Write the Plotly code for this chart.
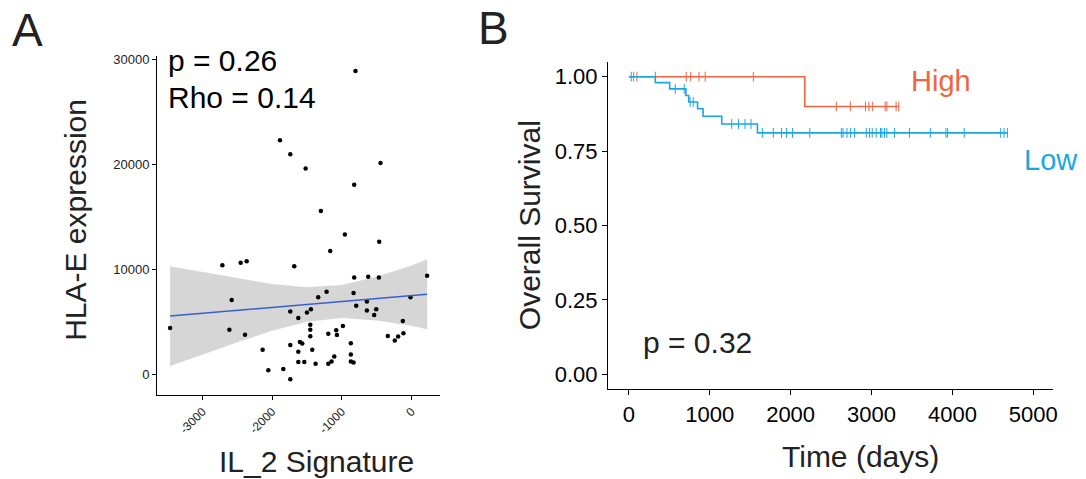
import numpy as np
import plotly.graph_objects as go

W, H = 1086, 479
FONT = "Liberation Sans, Arial, sans-serif"

# ---------------- Panel A data ----------------
il2_signature = [-3464, -2714, -2580, -2613, -2451, -2365, -2389, -2136, -2054, -1887,
                 -1839, -1739, -1739, -1739, -1739, -1682, -1624, -1624, -1624, -1601,
                 -1567, -1538, -1519, -1500, -1443, -1452, -1452, -1452, -1424, -1376,
                 -1338, -1300, -1218, -1194, -1194, -1166, -1147, -1108, -1080, -1070,
                 -984, -956, -870, -870, -870, -831, -822, -831, -822, -803,
                 -793, -640, -640, -621, -535, -506, -468, -463, -444, -339,
                 -239, -191, -124, -115, -14, 225]
hla_e_expression = [4412, 10400, 7091, 4255, 10621, 10778, 3782, 2332, 378, 22313,
                    504, 20958, 5988, 2805, -473, 10306, 5358, 2143, 1166, 3089,
                    2931, 1166, 19603, 5893, 6209, 4727, 4255, 3624, 2332, 1009,
                    7343, 15569, 7879, 3876, 1009, 11755, 1229, 1702, 4192, 3750,
                    4601, 13331, 2962, 1891, 1229, 1135, 9234, 7753, 18059, 28900,
                    6524, 6934, 6083, 9297, 5641, 6209, 9234, 12638, 20139, 3656,
                    3215, 3593, 5074, 3908, 7343, 9392]

fit_x = [-3464, -3000, -2500, -2000, -1500, -1000, -500, 0, 225]
fit_y = [5547, 5809, 6091, 6372, 6654, 6936, 7218, 7500, 7627]
ci_low = [788, 1859, 3048, 4145, 5010, 5355, 5135, 4630, 4287]
ci_high = [10306, 9759, 9134, 8599, 8298, 8517, 9301, 10370, 10967]

a_xticks = [-3000, -2000, -1000, 0]
a_xticklabels = ["-3000", "-2000", "-1000", "0"]
a_yticks = [0, 10000, 20000, 30000]
a_yticklabels = ["0", "10000", "20000", "30000"]

# ---------------- Panel B data ----------------
high_time = [0, 2175, 3337]
high_surv = [1.0, 0.90, 0.90]
high_censor = [60, 100, 328, 710, 765, 868, 944, 1539, 2565, 2738, 2925, 2968,
               3015, 3169, 3190, 3304, 3337]

low_time = [0, 328, 505, 705, 740, 850, 918, 1149, 1590, 4680]
low_surv = [1.0, 0.980, 0.959, 0.937, 0.915, 0.892, 0.867, 0.841, 0.811, 0.811]
low_censor = [30, 574, 685, 757, 796, 1272, 1355, 1436, 1510, 1650, 1786, 1888,
              1950, 2023, 2237, 2627, 2648, 2697, 2742, 2791, 2935, 2976, 3009,
              3058, 3111, 3128, 3160, 3190, 3283, 3468, 3727, 3920, 3941, 4146,
              4597, 4638, 4680]

b_xticks = [0, 1000, 2000, 3000, 4000, 5000]
b_yticks = [0, 0.25, 0.5, 0.75, 1.0]
b_yticklabels = ["0.00", "0.25", "0.50", "0.75", "1.00"]

ORANGE = "#F26440"
BLUE = "#1AA7E1"


def step_lookup(times, survs, t):
    idx = np.searchsorted(np.asarray(times), np.asarray(t), side="right") - 1
    return list(np.asarray(survs)[idx])


def px(x):
    return x / W


def py(y):
    return 1 - y / H


fig = go.Figure()

# CI band
fig.add_trace(go.Scatter(x=fit_x + fit_x[::-1], y=ci_high + ci_low[::-1], fill="toself",
                         fillcolor="rgba(153,153,153,0.4)", line=dict(width=0),
                         mode="lines", hoverinfo="skip", showlegend=False,
                         xaxis="x", yaxis="y"))
# points
fig.add_trace(go.Scatter(x=il2_signature, y=hla_e_expression, mode="markers",
                         marker=dict(color="black", size=4.5), showlegend=False,
                         xaxis="x", yaxis="y"))
# fit line
fig.add_trace(go.Scatter(x=fit_x, y=fit_y, mode="lines",
                         line=dict(color="#3A5FCD", width=1.5), showlegend=False,
                         xaxis="x", yaxis="y"))

# KM curves
fig.add_trace(go.Scatter(x=high_time, y=high_surv, mode="lines", line_shape="hv",
                         line=dict(color=ORANGE, width=1.6), showlegend=False,
                         xaxis="x2", yaxis="y2"))
fig.add_trace(go.Scatter(x=high_censor, y=step_lookup(high_time, high_surv, high_censor),
                         mode="markers",
                         marker=dict(symbol="line-ns", size=7, line=dict(color=ORANGE, width=1)),
                         showlegend=False, xaxis="x2", yaxis="y2"))
fig.add_trace(go.Scatter(x=low_time, y=low_surv, mode="lines", line_shape="hv",
                         line=dict(color=BLUE, width=1.6), showlegend=False,
                         xaxis="x2", yaxis="y2"))
fig.add_trace(go.Scatter(x=low_censor, y=step_lookup(low_time, low_surv, low_censor),
                         mode="markers",
                         marker=dict(symbol="line-ns", size=7, line=dict(color=BLUE, width=1)),
                         showlegend=False, xaxis="x2", yaxis="y2"))

axis_common = dict(showline=True, linecolor="black", linewidth=1.4, ticks="outside",
                   tickcolor="black", tickwidth=1, showgrid=False, zeroline=False,
                   mirror=False)

fig.update_layout(
    width=W, height=H, margin=dict(l=0, r=0, t=0, b=0),
    paper_bgcolor="white", plot_bgcolor="white",
    font=dict(family=FONT, color="black"),
    xaxis=dict(domain=[px(158), px(442)], range=[-3648, 409], tickvals=a_xticks,
               ticktext=a_xticklabels, tickangle=-45, ticklen=4,
               tickfont=dict(size=12, color="#222"), anchor="y", **axis_common),
    yaxis=dict(domain=[py(394), py(52)], range=[-1942, 30369], tickvals=a_yticks,
               ticktext=a_yticklabels, ticklen=4,
               tickfont=dict(size=13, color="#222"), anchor="x", **axis_common),
    xaxis2=dict(domain=[px(611), px(1058)], range=[-255, 5245], tickvals=b_xticks,
                ticklen=5, tickfont=dict(size=22, color="black"), anchor="y2",
                **axis_common),
    yaxis2=dict(domain=[py(388.3), py(58.3)], range=[-0.05, 1.05], tickvals=b_yticks,
                ticktext=b_yticklabels, ticklen=5,
                tickfont=dict(size=22, color="black"), anchor="x2", **axis_common),
)

ann = [
    dict(text="A", x=px(28), y=py(26), font=dict(size=46, color="#222")),
    dict(text="B", x=px(496), y=py(24), font=dict(size=46, color="#222")),
    dict(text="HLA-E expression", x=px(76.5), y=py(217.5), textangle=-90,
         font=dict(size=30, color="#222")),
    dict(text="IL_2 Signature", x=px(317.5), y=py(461), font=dict(size=30, color="#222")),
    dict(text="Overall Survival", x=px(532), y=py(223.5), textangle=-90,
         font=dict(size=30, color="#222")),
    dict(text="Time (days)", x=px(864), y=py(456), font=dict(size=30, color="#222")),
    dict(text="p = 0.26", x=px(167), y=py(57), xanchor="left", font=dict(size=30, color="black")),
    dict(text="Rho = 0.14", x=px(167), y=py(94), xanchor="left", font=dict(size=30, color="black")),
    dict(text="High", x=px(913), y=py(78), xanchor="left", font=dict(size=29, color=ORANGE)),
    dict(text="Low", x=px(1027), y=py(157), xanchor="left", font=dict(size=29, color=BLUE)),
    dict(text="p = 0.32", x=px(644), y=py(341), xanchor="left", font=dict(size=30, color="#222")),
]
for a in ann:
    a.setdefault("xanchor", "center")
    a.setdefault("yanchor", "middle")
    fig.add_annotation(xref="paper", yref="paper", showarrow=False, **a)

fig.write_html("out.html", config={"displayModeBar": False},
               post_script="document.body.style.margin='0';document.body.style.overflow='hidden';")
